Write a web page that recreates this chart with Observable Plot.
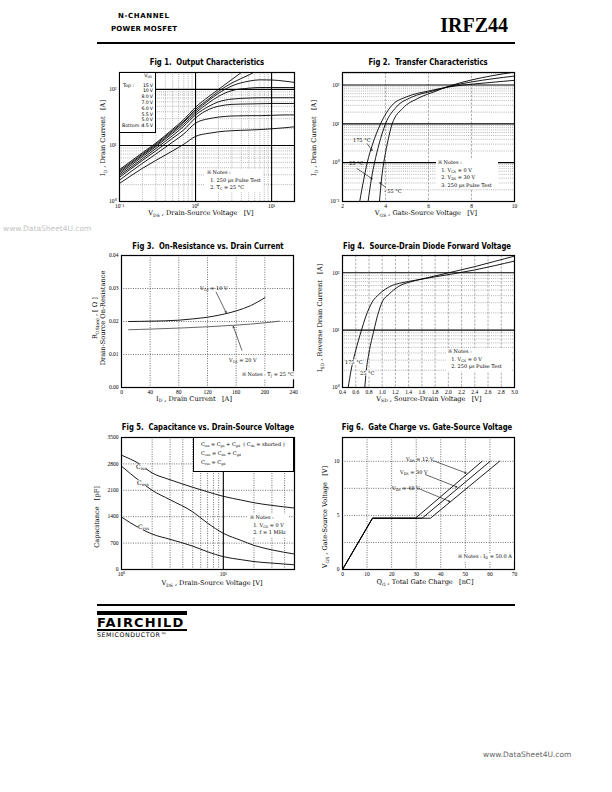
<!DOCTYPE html>
<html><head><meta charset="utf-8">
<script src="https://cdn.jsdelivr.net/npm/d3@7"></script>
<script src="https://cdn.jsdelivr.net/npm/@observablehq/plot@0.6"></script>
<style>
html,body{margin:0;padding:0;background:#fff;}
body{position:relative;width:612px;height:792px;overflow:hidden;}
.a{position:absolute;white-space:nowrap;line-height:1;z-index:3;color:#000;}
.ttl{font-family:"DejaVu Sans Condensed","Liberation Sans",sans-serif;font-weight:bold;font-size:8.6px;transform:translate(-50%,-50%) scaleX(0.89);}
.lab{font-family:"DejaVu Serif",serif;font-size:6.6px;}
.c{transform:translate(-50%,-50%);}
.l{transform:translate(0,-50%);}
.r{transform:translate(-50%,-50%) rotate(-90deg);}
.note{font-family:"DejaVu Serif",serif;font-size:5px;background:#fff;line-height:7.6px;padding:0 2px;}
.sm{font-family:"DejaVu Serif",serif;font-size:5px;}
.cl{font-family:"DejaVu Serif",serif;font-size:6.2px;}
.wb{background:#fff;}
sub{font-size:68%;vertical-align:baseline;position:relative;top:0.35em;line-height:0;}
.box{position:absolute;border:1px solid #000;background:#fff;z-index:2;box-sizing:border-box;}
.bar{position:absolute;background:#000;}
</style></head><body>

<!-- header -->
<div class="a" style="left:118px;top:13px;font-family:'DejaVu Sans';font-weight:bold;font-size:7px;letter-spacing:0.6px">N-CHANNEL</div>
<div class="a" style="left:111px;top:26px;font-family:'DejaVu Sans';font-weight:bold;font-size:7px;letter-spacing:0.2px">POWER MOSFET</div>
<div class="a" style="right:104px;top:15px;font-family:'Liberation Serif';font-weight:bold;font-size:20px">IRFZ44</div>
<div class="bar" style="left:97px;top:42px;width:418px;height:2px"></div>

<!-- titles -->
<div class="a ttl" style="left:207px;top:61.5px">Fig 1.&nbsp; Output Characteristics</div>
<div class="a ttl" style="left:428px;top:61.5px">Fig 2.&nbsp; Transfer Characteristics</div>
<div class="a ttl" style="left:208px;top:245.5px">Fig 3.&nbsp; On-Resistance vs. Drain Current</div>
<div class="a ttl" style="left:427px;top:245.5px">Fig 4.&nbsp; Source-Drain Diode Forward Voltage</div>
<div class="a ttl" style="left:208px;top:427px">Fig 5.&nbsp; Capacitance vs. Drain-Source Voltage</div>
<div class="a ttl" style="left:427px;top:427px">Fig 6.&nbsp; Gate Charge vs. Gate-Source Voltage</div>

<!-- axis titles -->
<div class="a lab c" style="left:201px;top:213px">V<sub>DS</sub> , Drain-Source Voltage&nbsp;&nbsp;&nbsp;[V]</div>
<div class="a lab r" style="left:103px;top:138px">I<sub>D</sub> , Drain Current&nbsp;&nbsp;&nbsp;[A]</div>
<div class="a lab c" style="left:426px;top:213px">V<sub>GS</sub> , Gate-Source Voltage&nbsp;&nbsp;&nbsp;[V]</div>
<div class="a lab r" style="left:314px;top:138px">I<sub>D</sub> , Drain Current&nbsp;&nbsp;&nbsp;[A]</div>
<div class="a lab c" style="left:194px;top:398.5px">I<sub>D</sub> , Drain Current&nbsp;&nbsp;&nbsp;[A]</div>
<div class="a lab r" style="left:95px;top:318px">R<sub>DS(on)</sub> , [ Ω ]</div>
<div class="a lab r" style="left:103px;top:318px">Drain-Source On-Resistance</div>
<div class="a lab c" style="left:429px;top:398.5px">V<sub>SD</sub> , Source-Drain Voltage&nbsp;&nbsp;&nbsp;[V]</div>
<div class="a lab r" style="left:320px;top:318px">I<sub>SD</sub> , Reverse Drain Current&nbsp;&nbsp;&nbsp;[A]</div>
<div class="a lab c" style="left:212px;top:583px">V<sub>DS</sub> , Drain-Source Voltage&nbsp;[V]</div>
<div class="a lab r" style="left:97px;top:517px">Capacitance&nbsp;&nbsp;&nbsp;[pF]</div>
<div class="a lab c" style="left:425px;top:582px">Q<sub>G</sub> , Total Gate Charge&nbsp;&nbsp;&nbsp;[nC]</div>
<div class="a lab r" style="left:325px;top:517px">V<sub>GS</sub> , Gate-Source Voltage&nbsp;&nbsp;&nbsp;[V]</div>

<!-- notes -->
<div class="a note" style="left:205px;top:169px">※ Notes :<br>&nbsp;&nbsp;1. 250 μs Pulse Test<br>&nbsp;&nbsp;2. T<sub>C</sub> = 25 °C</div>
<div class="a note" style="left:436px;top:159px;padding-right:6px">※ Notes :<br>&nbsp;&nbsp;1. V<sub>GS</sub> = 0 V<br>&nbsp;&nbsp;2. V<sub>DS</sub> = 30 V<br>&nbsp;&nbsp;3. 250 μs Pulse Test</div>
<div class="a note l" style="left:240px;top:375px">※ Notes : T<sub>J</sub> = 25 °C</div>
<div class="a note" style="left:446px;top:348px;padding-right:10px">※ Notes :<br>&nbsp;&nbsp;1. V<sub>GS</sub> = 0 V<br>&nbsp;&nbsp;2. 250 μs Pulse Test</div>
<div class="a note" style="left:248px;top:514px">※ Notes :<br>&nbsp;&nbsp;1. V<sub>GS</sub> = 0 V<br>&nbsp;&nbsp;2. f = 1 MHz</div>
<div class="a note l" style="left:456px;top:557px">※ Notes : I<sub>D</sub> = 50.0 A</div>

<!-- curve labels -->
<div class="a sm l" style="left:353px;top:140px">175 °C</div>
<div class="a sm l" style="left:349px;top:163px">25 °C</div>
<div class="a sm l" style="left:384px;top:191px">- 55 °C</div>
<div class="a sm l" style="left:200px;top:288px">V<sub>GS</sub> = 10 V</div>
<div class="a sm l" style="left:229px;top:360px">V<sub>GS</sub> = 20 V</div>
<div class="a sm l wb" style="left:345px;top:362px">175 °C</div>
<div class="a sm l wb" style="left:360px;top:373px">25 °C</div>
<div class="a cl l wb" style="left:136px;top:467px">C<sub>iss</sub></div>
<div class="a cl l wb" style="left:137px;top:483px">C<sub>oss</sub></div>
<div class="a cl l wb" style="left:138px;top:527px">C<sub>rss</sub></div>
<div class="a sm l" style="left:406px;top:459px">V<sub>DS</sub> = 12 V</div>
<div class="a sm l" style="left:400px;top:472px">V<sub>DS</sub> = 30 V</div>
<div class="a sm l" style="left:392px;top:488px">V<sub>DS</sub> = 48 V</div>

<!-- legend boxes -->
<div class="box" id="leg1" style="left:119px;top:72px;width:37px;height:61px"></div>
<div class="box" style="left:193px;top:437px;width:101px;height:35px"></div>
<div class="a sm l" style="left:201px;top:443.5px">C<sub>iss</sub> = C<sub>gs</sub> + C<sub>gd</sub>&nbsp; ( C<sub>ds</sub> = shorted )</div>
<div class="a sm l" style="left:201px;top:452.5px">C<sub>oss</sub> = C<sub>ds</sub> + C<sub>gd</sub></div>
<div class="a sm l" style="left:201px;top:461.5px">C<sub>rss</sub> = C<sub>gd</sub></div>

<!-- footer -->
<div class="bar" style="left:97px;top:604px;width:418px;height:2px"></div>
<div class="bar" style="left:97px;top:611px;width:90px;height:3.5px"></div>
<div class="a" style="left:97px;top:616px;font-family:'DejaVu Sans';font-weight:bold;font-size:13px;letter-spacing:1.2px">FAIRCHILD</div>
<div class="bar" style="left:97px;top:628.5px;width:90px;height:2px"></div>
<div class="a" style="left:97px;top:632px;font-family:'DejaVu Sans';font-size:6.3px;letter-spacing:0.55px">SEMICONDUCTOR™</div>
<div class="a" style="left:3px;top:225px;font-family:'DejaVu Sans';font-size:7.5px;color:#c4c4c4">www.DataSheet4U.com</div>
<div class="a" style="left:483px;top:751px;font-family:'DejaVu Sans';font-size:7.5px;color:#666">www.DataSheet4U.com</div>

<script>
// ---------- Fig 1 data ----------
const fig1Vgs = ["15 V","10 V","8.0 V","7.0 V","6.0 V","5.5 V","5.0 V","4.5 V"];
const fig1Vds = [0.1,0.2,0.3,0.5,0.7,1,1.5,2,3,5,7,10,15,20];
const fig1Id15 = [3.7,7.4,11,19.5,29,48,75,100,150,250,null,null,null,null];
const fig1Id10 = [3.5,7.0,10.5,18.5,27,44,68,92,130,180,230,null,null,null];
const fig1Id8  = [3.3,6.7,10,17.5,26,41,64,85,115,140,148,147,140,133];
const fig1Id7  = [3.1,6.3,9.5,16.5,24,38,58,75,95,105,108,108,108,108];
const fig1Id6  = [2.9,5.8,8.8,15,22,35,50,60,67,70,71,71,71,71];
const fig1Id55 = [2.7,5.4,8.0,13.5,19,31,44,50,54,55,55.5,56,56,56];
const fig1Id5  = [2.4,4.8,7.0,11.5,16,25,30,32,33.5,34,34,34.5,35,35];
const fig1Id45 = [2.1,3.9,5.4,8.0,10.5,14.5,16.5,17.5,18.3,18.8,19.2,19.8,20.7,21.5];
const fig1XTicks = [0.1,1,10], fig1XLabels = ["10⁻¹","10⁰","10¹"];
const fig1YTicks = [1,10,100], fig1YLabels = ["10⁰","10¹","10²"];

// ---------- Fig 2 data ----------
const fig2Temps = ["175 °C","25 °C","- 55 °C"];
const fig2Vgs175 = [2.8,3.0,3.15,3.4,3.77,4.3,5,6,7,8,9,10];
const fig2Id175  = [0.1,0.4,1,3,10,30,50,70,90,105,118,132];
const fig2Vgs25  = [3.19,3.35,3.49,3.7,4.0,4.5,5.2,6.2,7,8,9,10];
const fig2Id25   = [0.1,0.4,1,3,10,27,48,70,93,120,145,170];
const fig2VgsM55 = [3.72,3.82,3.92,4.08,4.31,4.8,5.5,6.3,7,8,9,10];
const fig2IdM55  = [0.1,0.4,1,3,10,25,45,68,95,135,175,215];
const fig2XTicks = [2,4,6,8,10], fig2XLabels = ["2","4","6","8","10"];
const fig2YTicks = [0.1,1,10,100], fig2YLabels = ["10⁻¹","10⁰","10¹","10²"];
const fig2ArrowX1 = [3.15,2.68,4.0], fig2ArrowY1 = [3.07,0.70,0.234];
const fig2ArrowX2 = [3.38,3.38,3.735], fig2ArrowY2 = [2.06,0.385,0.303];

// ---------- Fig 3 data ----------
const fig3Id10 = [10,40,80,100,120,140,160,180,200];
const fig3R10  = [0.0200,0.0201,0.0204,0.0208,0.0213,0.0221,0.0232,0.0248,0.0272];
const fig3Id20 = [10,40,80,120,160,200,220];
const fig3R20  = [0.0175,0.0177,0.0180,0.0184,0.0189,0.0196,0.0201];
const fig3XTicks = [0,40,80,120,160,200,240];
const fig3YTicks = [0,0.01,0.02,0.03,0.04], fig3YLabels = ["0.00","0.01","0.02","0.03","0.04"];
const fig3ArrowX1 = [132,168], fig3ArrowY1 = [0.0289,0.0113];
const fig3ArrowX2 = [146,156], fig3ArrowY2 = [0.0227,0.0185];

// ---------- Fig 4 data ----------
const fig4Vsd175 = [0.486,0.53,0.59,0.687,0.75,0.85,0.95,1.05,1.15,1.3,1.5,1.8,2.1,2.4,2.7,3.0];
const fig4Isd175 = [1,2,4,10,17,31,42,52,60,67,74,85,97,112,133,160];
const fig4Vsd25  = [0.737,0.76,0.8,0.876,0.93,1.0,1.1,1.25,1.4,1.5,1.8,2.1,2.4,2.7,3.0];
const fig4Isd25  = [1,2,4,10,18,31,42,58,68,73,88,106,128,158,195];
const fig4XTicks = [0.4,0.6,0.8,1.0,1.2,1.4,1.6,1.8,2.0,2.2,2.4,2.6,2.8,3.0];
const fig4YTicks = [1,10,100], fig4YLabels = ["10⁰","10¹","10²"];

// ---------- Fig 5 data ----------
const fig5Vds  = [1,1.5,2,3,5,7,10,15,20,30,50];
const fig5Ciss = [3030,2800,2560,2380,2180,2060,1940,1840,1770,1700,1630];
const fig5Coss = [2740,2350,2100,1850,1530,1230,960,770,640,520,410];
const fig5Crss = [1390,1100,940,800,620,470,340,260,210,170,125];
const fig5XTicks = [1,10], fig5XLabels = ["10⁰","10¹"];
const fig5YTicks = [0,700,1400,2100,2800,3500];

// ---------- Fig 6 data ----------
const fig6Vds = ["12 V","30 V","48 V"];
const fig6Q12 = [0,12.2,29.7,56.8], fig6V12 = [0,4.74,4.74,10];
const fig6Q30 = [0,12.2,32.4,60.1], fig6V30 = [0,4.74,4.74,10];
const fig6Q48 = [0,12.2,35.8,63.9], fig6V48 = [0,4.74,4.74,10];
const fig6XTicks = [0,10,20,30,40,50,60,70];
const fig6YTicks = [0,5,10];
const fig6ArrowX1 = [37.1,33.8,31.1], fig6ArrowY1 = [10.04,8.77,7.47];
const fig6ArrowX2 = [50.3,46.6,43.6], fig6ArrowY2 = [8.92,7.62,6.29];

// ---------- helpers ----------
const zip = (xs, ys, g) => xs.map((x,i) => ({x, y: ys[i], g})).filter(d => d.y != null);
const arrows = (x1,y1,x2,y2) => x1.map((v,i) => ({x1:v, y1:y1[i], x2:x2[i], y2:y2[i]}));
const minorLog = (lo, hi) => { const out=[]; for (let e=lo; e<hi; e++) for (let k=2;k<=9;k++) out.push(k*10**e); return out; };

const dotGray  = {stroke:"#8c8c8c", strokeWidth:0.7, strokeDasharray:"0.9,1.2"};
const dashGray = {stroke:"#8c8c8c", strokeWidth:0.7, strokeDasharray:"2.4,1.4"};
const dotBlack = {stroke:"#333", strokeWidth:0.7, strokeDasharray:"1,1.4"};
const solid    = {stroke:"#000", strokeWidth:1.1};
const curve    = {x:"x", y:"y", z:"g", stroke:"#000", strokeWidth:0.9, clip:true};

function axes(xt, xl, yt, yl) {
  return [
    Plot.axisX(xt, {tickSize:0, tickPadding:3, label:null, tickFormat: d => xl[xt.indexOf(d)]}),
    Plot.axisY(yt, {tickSize:0, tickPadding:3, label:null, tickFormat: d => yl[yt.indexOf(d)]})
  ];
}
function chart(frame, xs, ys, marks) {
  const [x0,y0,x1,y1] = frame;
  const ml=32, mr=6, mt=4, mb=12;
  const svg = Plot.plot({
    width: x1-x0+ml+mr, height: y1-y0+mt+mb,
    marginLeft: ml, marginRight: mr, marginTop: mt, marginBottom: mb,
    x: xs, y: ys,
    style: {fontFamily:"Liberation Serif, serif", fontSize:"5.5px", background:"transparent", overflow:"visible"},
    marks: [...marks, Plot.frame({stroke:"#000", strokeWidth:1.2})]
  });
  svg.style.position = "absolute";
  svg.style.left = (x0-ml)+"px";
  svg.style.top = (y0-mt)+"px";
  svg.style.zIndex = 1;
  document.body.appendChild(svg);
}

// ---------- Fig 1 ----------
const fig1Series = [fig1Id15,fig1Id10,fig1Id8,fig1Id7,fig1Id6,fig1Id55,fig1Id5,fig1Id45];
chart([119,72,294,201],
  {type:"log", domain:[0.1,20]}, {type:"log", domain:[1,200]},
  [
    Plot.ruleX(minorLog(-1,2).filter(v => v < 20), dotGray),
    Plot.ruleY(minorLog(0,2).concat([200]).filter(v => v < 200), dotGray),
    Plot.ruleX([1,10], solid), Plot.ruleY([10,100], solid),
    Plot.line(fig1Vgs.flatMap((g,i) => zip(fig1Vds, fig1Series[i], g)), {...curve, curve:"monotone-x"}),
    ...axes(fig1XTicks, fig1XLabels, fig1YTicks, fig1YLabels)
  ]);
// legend box text for fig 1
(function(){
  const box = document.getElementById("leg1");
  const add = (html, left, top, right) => {
    const d = document.createElement("div");
    d.className = "a l"; d.style.fontFamily = "DejaVu Sans"; d.style.fontSize = "4.7px";
    if (right != null) d.style.right = right+"px"; else d.style.left = left+"px";
    d.style.top = top+"px"; d.innerHTML = html; box.appendChild(d);
  };
  add("V<sub>GS</sub>", null, 3, 3);
  fig1Vgs.forEach((g,i) => add(g.replace(" ", "&thinsp;"), null, 12.5 + i*5.8, 2));
  add("Top :", 3, 12.5, null);
  add("Bottom :", 2, 12.5 + 7*5.8, null);
})();

// ---------- Fig 2 ----------
chart([342,72,514,201],
  {type:"linear", domain:[2,10]}, {type:"log", domain:[0.1,210]},
  [
    Plot.ruleY(minorLog(-1,3).filter(v => v < 210), dotGray),
    Plot.ruleX([4,6,8], dashGray),
    Plot.ruleY([1,10,100], solid),
    Plot.line([...zip(fig2Vgs175, fig2Id175, fig2Temps[0]), ...zip(fig2Vgs25, fig2Id25, fig2Temps[1]), ...zip(fig2VgsM55, fig2IdM55, fig2Temps[2])], {...curve, curve:"monotone-x"}),
    Plot.arrow(arrows(fig2ArrowX1, fig2ArrowY1, fig2ArrowX2, fig2ArrowY2), {x1:"x1", y1:"y1", x2:"x2", y2:"y2", stroke:"#000", strokeWidth:0.6, headLength:3.5}),
    ...axes(fig2XTicks, fig2XLabels, fig2YTicks, fig2YLabels)
  ]);

// ---------- Fig 3 ----------
chart([121,255,293,387],
  {type:"linear", domain:[0,240]}, {type:"linear", domain:[0,0.04]},
  [
    Plot.ruleX([40,80,120,160,200], dotBlack),
    Plot.ruleY([0.01,0.02,0.03], dotBlack),
    Plot.line(zip(fig3Id10, fig3R10, "10 V"), {...curve, curve:"monotone-x"}),
    Plot.line(zip(fig3Id20, fig3R20, "20 V"), {...curve, stroke:"#555", curve:"monotone-x"}),
    Plot.arrow(arrows(fig3ArrowX1, fig3ArrowY1, fig3ArrowX2, fig3ArrowY2), {x1:"x1", y1:"y1", x2:"x2", y2:"y2", stroke:"#000", strokeWidth:0.6, headLength:3.5}),
    ...axes(fig3XTicks, fig3XTicks.map(String), fig3YTicks, fig3YLabels)
  ]);

// ---------- Fig 4 ----------
chart([342,255,514,387],
  {type:"linear", domain:[0.4,3.0]}, {type:"log", domain:[1,200]},
  [
    Plot.ruleY(minorLog(0,3).filter(v => v < 200), dotGray),
    Plot.ruleX(fig4XTicks.slice(1,-1), dashGray),
    Plot.ruleY([10,100], solid),
    Plot.line([...zip(fig4Vsd175, fig4Isd175, "175"), ...zip(fig4Vsd25, fig4Isd25, "25")], {...curve, curve:"monotone-x"}),
    ...axes(fig4XTicks, fig4XTicks.map(v => v.toFixed(1)), fig4YTicks, fig4YLabels)
  ]);

// ---------- Fig 5 ----------
chart([121,437,294,569],
  {type:"log", domain:[1,50]}, {type:"linear", domain:[0,3500]},
  [
    Plot.ruleX(minorLog(0,2).filter(v => v < 50), dotBlack),
    Plot.ruleY(fig5YTicks.slice(1,-1), dotBlack),
    Plot.ruleX([10], solid),
    Plot.line([...zip(fig5Vds, fig5Ciss, "Ciss"), ...zip(fig5Vds, fig5Coss, "Coss"), ...zip(fig5Vds, fig5Crss, "Crss")], {...curve, curve:"monotone-x"}),
    ...axes(fig5XTicks, fig5XLabels, fig5YTicks, fig5YTicks.map(String))
  ]);

// ---------- Fig 6 ----------
chart([342,437,514,569],
  {type:"linear", domain:[0,70]}, {type:"linear", domain:[0,12.2]},
  [
    Plot.ruleX([10,20,30,40,50,60], dotBlack),
    Plot.ruleY([2.5,5,7.5,10], dotBlack),
    Plot.line([...zip(fig6Q12, fig6V12, fig6Vds[0]), ...zip(fig6Q30, fig6V30, fig6Vds[1]), ...zip(fig6Q48, fig6V48, fig6Vds[2])], {...curve}),
    Plot.arrow(arrows(fig6ArrowX1, fig6ArrowY1, fig6ArrowX2, fig6ArrowY2), {x1:"x1", y1:"y1", x2:"x2", y2:"y2", stroke:"#000", strokeWidth:0.6, headLength:3.5}),
    ...axes(fig6XTicks, fig6XTicks.map(String), fig6YTicks, fig6YTicks.map(String))
  ]);
</script>
</body></html>
